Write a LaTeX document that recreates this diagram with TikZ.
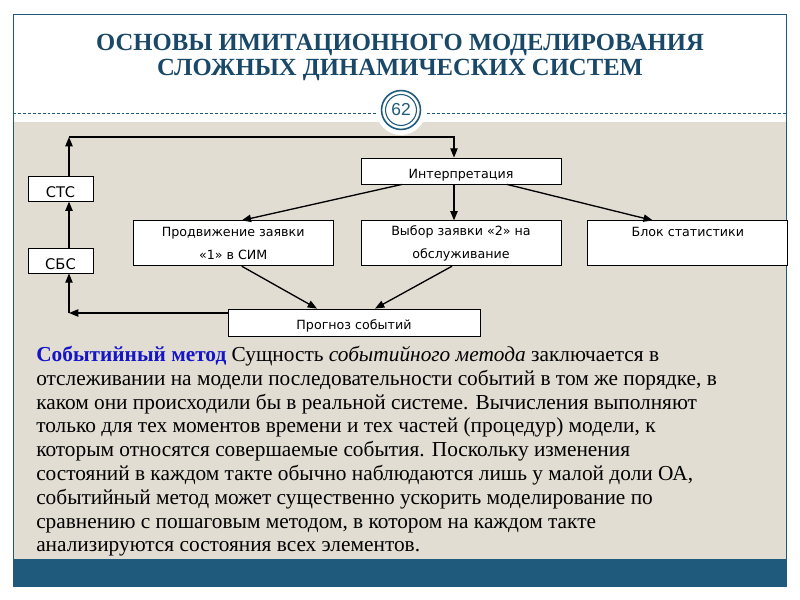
\documentclass[tikz,border=0pt]{standalone}
\usepackage{fontspec}
\setmainfont{Liberation Serif}
\newfontfamily\boxfont{DejaVu Sans}
\newfontfamily\numfont{Liberation Sans}
\usetikzlibrary{arrows.meta,positioning}
\definecolor{slideblue}{RGB}{31,90,124}
\definecolor{titleblue}{RGB}{26,72,104}
\definecolor{paper}{RGB}{226,221,211}
\definecolor{termblue}{RGB}{20,20,200}

\begin{document}
\begin{tikzpicture}[
  x=0.75pt, y=-0.75pt,
  box/.style={draw=black, fill=white, line width=0.6pt, inner sep=0pt,
    minimum width=150pt, minimum height=33.75pt, align=center,
    font=\boxfont\fontsize{9.5}{17}\selectfont,
    execute at begin node={\rule{0pt}{13pt}}},
  tag/.style={box, minimum width=48.75pt, minimum height=18.75pt,
    font=\boxfont\fontsize{11}{13}\selectfont},
  flow/.style={-{Triangle[length=7pt,width=5.5pt]}, line width=1pt},
  title/.style={font=\fontsize{18.5}{18.75}\selectfont\bfseries, text=titleblue,
    align=center, inner sep=0pt},
  body/.style={font=\fontsize{16}{17.85}\selectfont, align=left, inner sep=0pt}
]
\useasboundingbox (0,0) rectangle (800,600);
% slide frame
\fill[paper] (13,122) rectangle (786,559);
\fill[slideblue] (13,559) rectangle (786,586);
\draw[slideblue, line width=0.6pt] (13,14) rectangle (786,586);
\draw[slideblue, line width=0.6pt, dash pattern=on 2.2pt off 1.5pt] (13,113) -- (786,113);
\fill[white] (401,110) circle (18.75pt);
\draw[slideblue, line width=1.2pt] (401,110) circle (14.6pt);
\draw[slideblue, line width=0.8pt] (401,110) circle (11.6pt);
\node[font=\numfont\fontsize{13}{13}\selectfont, text=slideblue] (page) at (401,110) {62};

\node[title, anchor=base] (head) at (400,75) {ОСНОВЫ ИМИТАЦИОННОГО МОДЕЛИРОВАНИЯ\\СЛОЖНЫХ ДИНАМИЧЕСКИХ СИСТЕМ};

% scheme
\node[box, minimum height=19.5pt] (interp) at (461,171) {Интерпретация};
\node[box, below=27pt of interp] (choice) {Выбор заявки «2» на\\обслуживание};
\node[box, left=20.25pt of choice] (advance) {Продвижение заявки\\«1» в СИМ};
\node[box, right=19.5pt of choice] (stats) {Блок статистики\\\mbox{}};
\node[box, minimum width=189pt, minimum height=20.25pt] (forecast) at (354,322.5) {Прогноз событий};
\node[tag] (sbs) at (60.5,260.5) {СБС};
\node[tag, above=34.5pt of sbs] (sts) {СТС};

\coordinate (turn) at (69,313);
\coordinate (loop) at (69,137);
\coordinate (drop) at (454,137);

\draw[flow] (forecast.west |- turn) -- (turn);
\draw[flow] (turn) -- (turn |- sbs.south);
\draw[flow] (turn |- sbs.north) -- (turn |- sts.south);
\draw[flow] (turn |- sts.north) -- (loop);
\draw[flow] (loop) -- (drop) -- (drop |- interp.north);
\draw[flow] ([xshift=-44.25pt]interp.south) -- ([xshift=6.4pt]advance.north);
\draw[flow] (drop |- interp.south) -- (drop |- choice.north);
\draw[flow] ([xshift=34.5pt]interp.south) -- ([xshift=-26.25pt]stats.north);
\draw[flow] ([xshift=6.4pt]advance.south) -- ([xshift=-27.75pt]forecast.north);
\draw[flow] ([xshift=-6.75pt]choice.south) -- ([xshift=15.75pt]forecast.north);

% text
\node[body, anchor=north west] (method) at (36,346) {\textcolor{termblue}{\textbf{Событийный метод}} Сущность \textit{событийного метода} заключается в\\
отслеживании на модели последовательности событий в том же порядке, в\\
каком они происходили бы в реальной системе. Вычисления выполняют\\
только для тех моментов времени и тех частей (процедур) модели, к\\
которым относятся совершаемые события. Поскольку изменения\\
состояний в каждом такте обычно наблюдаются лишь у малой доли ОА,\\
событийный метод может существенно ускорить моделирование по\\
сравнению с пошаговым методом, в котором на каждом такте\\
анализируются состояния всех элементов.};
\end{tikzpicture}
\end{document}
